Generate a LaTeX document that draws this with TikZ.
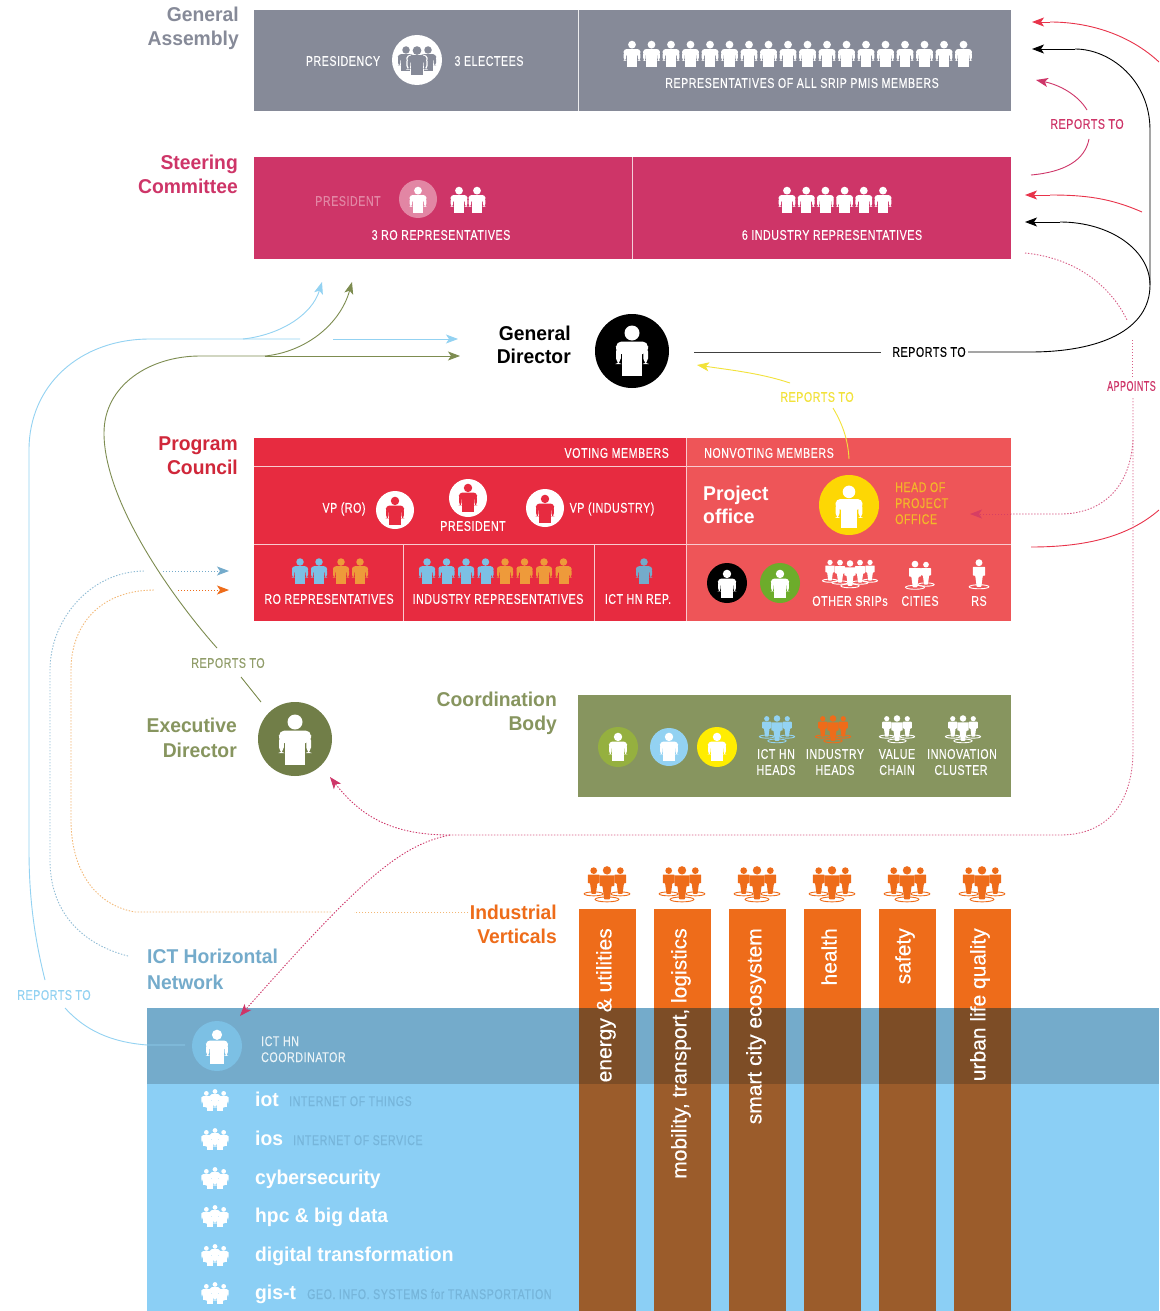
\documentclass[tikz,border=0pt]{standalone}
\usepackage{fontspec}
\setmainfont{Liberation Sans}
\newfontfamily\din[FakeStretch=0.76,LetterSpace=4,FakeBold=0.25]{Liberation Sans}
\newfontfamily\hd[FakeStretch=0.965]{Liberation Sans}
\newfontfamily\vf[FakeBold=0.3]{Liberation Sans}
\usetikzlibrary{arrows.meta}
\definecolor{cga}{HTML}{868A98}
\definecolor{csc}{HTML}{CE3568}
\definecolor{cpc}{HTML}{E72B40}
\definecolor{cpo}{HTML}{EE5558}
\definecolor{ccb}{HTML}{87955F}
\definecolor{cblue}{HTML}{8BCFF5}
\definecolor{cband}{HTML}{74ABCB}
\definecolor{cor}{HTML}{EE6C1A}
\definecolor{cbr}{HTML}{9B5C2B}
\definecolor{cbd}{HTML}{7D4D26}
\definecolor{cred}{HTML}{E8334A}
\definecolor{colv}{HTML}{7D8C50}
\definecolor{cyel}{HTML}{F2E23A}
\definecolor{clb}{HTML}{93D2F2}
\definecolor{cicb}{HTML}{7CC0E4}
\definecolor{cico}{HTML}{EE9A3A}
\definecolor{csub}{HTML}{76B5DA}
\definecolor{cgr}{HTML}{6DAC2B}
\definecolor{cgr2}{HTML}{95B03F}
\newcommand\pers[4]{%
  \begin{scope}[shift={(#1,#2)},scale=#3]
    \pgfmathsetlengthmacro\rc{#3*0.11pt}
    \fill[#4] (0,-0.36) circle[radius=0.15];
    \fill[#4,rounded corners=\rc] (-0.32,-0.19) rectangle (0.32,0.06);
    \fill[#4,rounded corners=\rc] (-0.32,-0.10) rectangle (-0.225,0.26);
    \fill[#4,rounded corners=\rc] (0.225,-0.10) rectangle (0.32,0.26);
    \fill[#4] (-0.20,-0.19) rectangle (0.20,0.5);
  \end{scope}}
\newcommand\stand[4]{%
  \begin{scope}[shift={(#1,#2)},scale=#3]
    \fill[#4] (0,-0.39) circle[radius=0.12];
    \fill[#4,rounded corners=0.6pt] (-0.21,-0.25) -- (0.21,-0.25) -- (0.21,0.06) -- (0.13,0.06) -- (0.08,0.44) -- (-0.08,0.44) -- (-0.13,0.06) -- (-0.21,0.06) -- cycle;
    \draw[#4,line width=0.9pt] (0,0.44) ellipse[x radius=0.34,y radius=0.07];
  \end{scope}}
\newcommand\grpthree[4]{%
  \stand{#1-#3*0.38}{#2-#3*0.07}{#3*0.8}{#4}\stand{#1+#3*0.38}{#2-#3*0.07}{#3*0.8}{#4}\stand{#1}{#2}{#3}{#4}}
\newcommand\crowd[4]{%
  \pers{#1-#3*0.36}{#2-#3*0.08}{#3*0.66}{#4}\pers{#1+#3*0.36}{#2-#3*0.08}{#3*0.66}{#4}\pers{#1}{#2-#3*0.16}{#3*0.66}{#4}%
  \pers{#1-#3*0.2}{#2+#3*0.12}{#3*0.6}{#4}\pers{#1+#3*0.2}{#2+#3*0.12}{#3*0.6}{#4}}
\tikzset{
  head/.style={font=\hd\bfseries\fontsize{20}{24}\selectfont,inner sep=0pt},
  lab/.style={font=\din\fontsize{14}{16}\selectfont,inner sep=0pt,text=white,align=center},
  rowt/.style={font=\hd\bfseries\fontsize{20}{24}\selectfont,inner sep=0pt,text=white,anchor=base west},
  subt/.style={font=\din\fontsize{14}{16}\selectfont,inner sep=0pt,text=csub,anchor=base west},
  vert/.style={font=\vf\fontsize{21}{24}\selectfont,inner sep=0pt,text=white,rotate=90,anchor=east},
  disc/.style={circle,inner sep=0pt,minimum size=#1},
  ln/.style={line width=0.9pt},
  dot/.style={line width=0.9pt,dash pattern=on 1.4pt off 1.6pt},
  tip/.style={-{Stealth[length=12pt,width=9pt,inset=3pt]}}
}
\begin{document}
\begin{tikzpicture}[x=1pt,y=-1pt]
\path[use as bounding box,fill=white] (0,0) rectangle (1159,1311);
\begin{scope}
\clip (0,0) rectangle (1159,1311);

% ---------- boxes
\fill[cga] (254,10) rectangle (1011,111);
\draw[white!85!cga,line width=1pt] (578.5,10) -- (578.5,111);
\fill[csc] (254,157) rectangle (1011,259);
\draw[white!75!csc,line width=1pt] (632.5,157) -- (632.5,259);
\fill[cpc] (254,438) rectangle (686,621);
\fill[cpo] (686,438) rectangle (1011,621);
\draw[white!75!cpc,line width=1pt] (254,466.5) -- (1011,466.5) (254,544) -- (1011,544)
  (403,544) -- (403,621) (594.5,544) -- (594.5,621) (686.5,438) -- (686.5,621);
\fill[ccb] (578,695) rectangle (1011,797);

% ---------- bottom panel
\fill[cblue] (147,1008) rectangle (1159,1311);
\fill[cband] (147,1008) rectangle (1159,1084);
\foreach \x in {579,654,729,804,879,954}{
  \fill[cor] (\x,909) rectangle (\x+57,1008);
  \fill[cbd] (\x,1008) rectangle (\x+57,1084);
  \fill[cbr] (\x,1084) rectangle (\x+57,1311);
  \grpthree{\x+28}{884}{35}{cor}
}

% ---------- headings
\node[head,text=cga,anchor=base east] (tga1) at (239,22) {General};
\node[head,text=cga,anchor=base east] (tga2) at (239,46) {Assembly};
\node[head,text=csc,anchor=base east] (tsc1) at (238,169) {Steering};
\node[head,text=csc,anchor=base east] (tsc2) at (238,193) {Committee};
\node[head,text=black,anchor=base east] (tgd1) at (571,340) {General};
\node[head,text=black,anchor=base east] (tgd2) at (571,363) {Director};
\node[head,text=cpc!90!black,anchor=base east] (tpc1) at (238,450) {Program};
\node[head,text=cpc!90!black,anchor=base east] (tpc2) at (238,474) {Council};
\node[head,text=ccb,anchor=base east] (ted1) at (237,732) {Executive};
\node[head,text=ccb,anchor=base east] (ted2) at (237,757) {Director};
\node[head,text=ccb,anchor=base east] (tcb1) at (557,706) {Coordination};
\node[head,text=ccb,anchor=base east] (tcb2) at (557,730) {Body};
\node[head,text=cor,anchor=base east] (tiv1) at (557,919) {Industrial};
\node[head,text=cor,anchor=base east] (tiv2) at (557,943) {Verticals};
\node[head,text=cband,anchor=base west] (tih1) at (147,963) {ICT Horizontal};
\node[head,text=cband,anchor=base west] (tih2) at (147,989) {Network};

% ---------- General Assembly
\node[lab] (l1) at (343,61) {PRESIDENCY};
\node[disc=50pt,fill=white] (d1) at (417,60) {};
\pers{406}{59}{25}{cga}\pers{428}{59}{25}{cga}
\pers{417}{61}{33}{white}\pers{417}{61}{29}{cga}
\node[lab] (l2) at (489,61) {3 ELECTEES};
\foreach \i in {0,...,17}{\pers{632+\i*19.5}{54}{26}{white}}
\node[lab] (l3) at (802,83) {REPRESENTATIVES OF ALL SRIP PMIS MEMBERS};

% ---------- Steering Committee
\node[lab,text=csc!60!white] (l4) at (348,201) {PRESIDENT};
\node[disc=38pt,fill=csc!60!white] (d2) at (418,199) {};
\pers{418}{200}{26}{white}
\pers{459}{200}{26}{white}\pers{477}{200}{26}{white}
\node[lab] (l5) at (441,235) {3 RO REPRESENTATIVES};
\foreach \i in {0,...,5}{\pers{787+\i*19.2}{200}{26}{white}}
\node[lab] (l6) at (832,235) {6 INDUSTRY REPRESENTATIVES};

% ---------- General Director
\node[disc=74pt,fill=black] (gd) at (632,351) {};
\pers{632}{351}{50}{white}

% ---------- Program Council
\node[lab,anchor=east] (l7) at (669,453) {VOTING MEMBERS};
\node[lab,anchor=west] (l8) at (704,453) {NONVOTING MEMBERS};
\node[lab] (l9) at (344,509) {VP (RO)};
\node[disc=38pt,fill=white] (d3) at (395,510) {};
\pers{395}{511}{28}{cpc}
\node[disc=38pt,fill=white] (d4) at (468,498) {};
\pers{468}{498}{28}{cpc}
\node[lab] (l10) at (473,526) {PRESIDENT};
\node[disc=38pt,fill=white] (d5) at (545,508) {};
\pers{545}{509}{28}{cpc}
\node[lab] (l11) at (612,509) {VP (INDUSTRY)};
\pers{300}{571}{25}{cicb}\pers{319}{571}{25}{cicb}
\pers{341}{571}{25}{cico}\pers{360}{571}{25}{cico}
\foreach \i in {0,...,3}{\pers{427+\i*19.5}{571}{25}{cicb}}
\foreach \i in {4,...,7}{\pers{427+\i*19.5}{571}{25}{cico}}
\pers{644}{571}{25}{cband}
\node[lab] (l12) at (329,599) {RO REPRESENTATIVES};
\node[lab] (l13) at (498,599) {INDUSTRY REPRESENTATIVES};
\node[lab] (l14) at (638,599) {ICT HN REP.};
\node[head,text=white,anchor=base west] (po1) at (703,500) {Project};
\node[head,text=white,anchor=base west] (po2) at (703,523) {office};
\node[disc=60pt,fill=yellow!75!orange] (hp) at (849,505) {};
\pers{849}{507}{42}{white}
\node[lab,text=cico!70!yellow,align=left,anchor=base west] (l15) at (895,492) {HEAD OF};
\node[lab,text=cico!70!yellow,align=left,anchor=base west] (l16) at (895,508) {PROJECT};
\node[lab,text=cico!70!yellow,align=left,anchor=base west] (l17) at (895,524) {OFFICE};
\node[disc=40pt,fill=black] (d6) at (727,583) {};
\pers{727}{584}{28}{white}
\node[disc=40pt,fill=cgr] (d7) at (780,583) {};
\pers{780}{584}{28}{white}
\stand{830}{571}{22}{white}\stand{870}{571}{22}{white}
\stand{840}{572}{24}{white}\stand{860}{572}{24}{white}
\stand{850}{574}{27}{white}
\stand{926}{574}{24}{white}\stand{915}{575}{28}{white}
\stand{979}{574}{29}{white}
\node[lab] (l18) at (850,601) {OTHER SRIPs};
\node[lab] (l19) at (920,601) {CITIES};
\node[lab] (l20) at (979,601) {RS};

% ---------- Executive Director / Coordination
\node[disc=74pt,fill=colv!90!black] (ed) at (295,739) {};
\pers{295}{740}{50}{white}
\node[disc=40pt,fill=cgr2] (d8) at (618,747) {};
\pers{618}{747}{28}{white}
\node[disc=38pt,fill=clb] (d9) at (669,747) {};
\pers{669}{747}{28}{white}
\node[disc=40pt,fill=yellow!95!orange] (d10) at (717,747) {};
\pers{717}{747}{28}{white}
\grpthree{777}{729}{27}{clb}
\grpthree{833}{729}{27}{cor}
\grpthree{897}{729}{27}{white}
\grpthree{963}{729}{27}{white}
\node[lab] (l21) at (776,754) {ICT HN};
\node[lab] (l22) at (776,770) {HEADS};
\node[lab] (l23) at (835,754) {INDUSTRY};
\node[lab] (l24) at (835,770) {HEADS};
\node[lab] (l25) at (897,754) {VALUE};
\node[lab] (l26) at (897,770) {CHAIN};
\node[lab] (l27) at (962,754) {INNOVATION};
\node[lab] (l28) at (961,770) {CLUSTER};

% ---------- ICT HN panel
\node[disc=50pt,fill=cicb] (cc) at (217,1046) {};
\pers{217}{1047}{34}{white}
\node[lab,align=left,anchor=base west,text=white!85!cband] (l29) at (261,1046) {ICT HN};
\node[lab,align=left,anchor=base west,text=white!85!cband] (l30) at (261,1062) {COORDINATOR};
\foreach \y in {1101,1140,1179,1217,1256,1294}{\crowd{215}{\y}{24}{white}}
\node[rowt] (r1) at (255,1106) {iot};
\node[subt] (s1) at (289,1106) {INTERNET OF THINGS};
\node[rowt] (r2) at (255,1145) {ios};
\node[subt] (s2) at (293,1145) {INTERNET OF SERVICE};
\node[rowt] (r3) at (255,1184) {cybersecurity};
\node[rowt] (r4) at (255,1222) {hpc \& big data};
\node[rowt] (r5) at (255,1261) {digital transformation};
\node[rowt] (r6) at (255,1299) {gis-t};
\node[subt] (s3) at (307,1299) {GEO. INFO. SYSTEMS for TRANSPORTATION};

% ---------- vertical labels
\node[vert] (v1) at (606,928) {energy \& utilities};
\node[vert] (v2) at (681,928) {mobility, transport, logistics};
\node[vert] (v3) at (756,928) {smart city ecosystem};
\node[vert] (v4) at (829,928) {health};
\node[vert] (v5) at (905,928) {safety};
\node[vert] (v6) at (980,928) {urban life quality};

% ---------- connector labels
\node[lab,text=black] (rtk) at (929,352) {REPORTS TO};
\node[lab,text=csc] (rtp) at (1087,124) {REPORTS TO};
\node[lab,text=cyel] (rty) at (817,397) {REPORTS TO};
\node[lab,text=colv!85!white] (rto) at (228,663) {REPORTS TO};
\node[lab,text=clb] (rtb) at (54,995) {REPORTS TO};
\node[lab,text=csc,anchor=west] (app) at (1107,386) {\scalebox{0.84}[1]{APPOINTS}};

% ---------- named free ends
\coordinate (gda) at (694,352);
\coordinate (rkl) at (881,352);
\coordinate (rkr) at (968,352);
\coordinate (ga1) at (1032,22);
\coordinate (ga2) at (1032,49);
\coordinate (ga3) at (1036,80);
\coordinate (sc1) at (1025,195);
\coordinate (sc2) at (1025,222);
\coordinate (scf) at (1031,175);
\coordinate (scd) at (1025,253);
\coordinate (rr1) at (1159,62);
\coordinate (rr2) at (1142,212);
\coordinate (pcr) at (1031,547);
\coordinate (rr3) at (1159,510);
\coordinate (v1k) at (1150,285);
\coordinate (pcy) at (849,459);
\coordinate (yu) at (833,408);
\coordinate (gdy) at (697,365);
\coordinate (gdo) at (460,356);
\coordinate (gdb) at (458,339);
\coordinate (sco) at (352,282);
\coordinate (scb) at (322,282);
\coordinate (pcb) at (229,571);
\coordinate (pco) at (229,590);
\coordinate (hpa) at (970,514);
\coordinate (mid) at (450,835);
\coordinate (iv) at (468,912);
\coordinate (pp1) at (1089,139);
\coordinate (pp2) at (1087,110);
\coordinate (ol1) at (261,702);
\coordinate (ol2) at (241,677);
\coordinate (ol3) at (217,648);

% ---------- black
\draw[black!75,ln] (gda) -- (rkl);
\draw[black,ln] (rkr) -- (1030,352) .. controls (1100,352) and (1150,330) .. (v1k);
\draw[black,ln] (v1k) -- (1150,130) .. controls (1150,80) and (1110,49) .. (1075,49);
\draw[black,ln,tip] (1075,49) -- (ga2);
\draw[black,ln] (v1k) .. controls (1150,250) and (1110,222) .. (1060,222);
\draw[black,ln,tip] (1060,222) -- (sc2);

% ---------- red
\draw[cred,ln] (rr1) .. controls (1130,35) and (1090,22) .. (1050,22);
\draw[cred,ln,tip] (1050,22) -- (ga1);
\draw[cred,ln] (rr2) .. controls (1110,198) and (1085,195) .. (1050,195);
\draw[cred,ln,tip] (1050,195) -- (sc1);
\draw[cred,ln] (pcr) .. controls (1090,547) and (1130,535) .. (rr3);

% ---------- pink reports to
\draw[csc,ln] (scf) .. controls (1065,172) and (1085,160) .. (pp1);
\draw[csc,ln,tip] (pp2) .. controls (1078,95) and (1060,85) .. (ga3);

% ---------- yellow
\draw[cyel,ln] (pcy) .. controls (848,440) and (843,425) .. (yu);
\draw[cyel,ln,tip] (790,383) .. controls (760,373) and (730,370) .. (gdy);

% ---------- olive
\draw[colv,ln] (ol1) -- (ol2);
\draw[colv,ln] (ol3) .. controls (170,595) and (104,500) .. (104,433)
  .. controls (104,385) and (150,356) .. (200,356) -- (265,356);
\draw[colv,ln,tip] (265,356) -- (gdo);
\draw[colv,ln,tip] (265,356) .. controls (305,352) and (340,325) .. (sco);

% ---------- light blue
\draw[clb,ln] (185,1045) -- (147,1045) .. controls (110,1042) and (85,1030) .. (65,1008);
\draw[clb,ln] (45,980) .. controls (35,940) and (29,900) .. (29,850) -- (29,450)
  .. controls (29,385) and (80,339) .. (150,339) -- (243,339) -- (300,339);
\draw[clb,ln,tip] (333,339) -- (gdb);
\draw[clb,ln,tip] (243,339) .. controls (280,335) and (312,315) .. (scb);

% ---------- dotted
\draw[cband!80!white,dot] (128,956) .. controls (85,945) and (50,915) .. (50,860) -- (50,670)
  .. controls (50,620) and (90,571) .. (145,571);
\draw[cband,dot,tip] (163,571) -- (pcb);
\draw[cico!70!white,dot] (iv) -- (354,912);
\draw[cico!70!white,dot] (331,912) -- (135,912) .. controls (95,905) and (71,870) .. (71,820) -- (71,670)
  .. controls (71,625) and (100,590) .. (155,590);
\draw[cor,dot,tip] (178,590) -- (pco);
\draw[csc!80!white,dot] (scd) .. controls (1075,258) and (1110,285) .. (1127,320);
\draw[csc!80!white,dot] (1132,340) -- (1132,378);
\draw[csc!80!white,dot] (1133,398) -- (1133,750) .. controls (1133,800) and (1110,835) .. (1060,835) -- (mid);
\draw[csc!80!white,dot] (1133,440) .. controls (1130,490) and (1100,514) .. (1060,514) -- (1011,514);
\draw[csc!70!cpo,dot,tip] (1011,514) -- (hpa);
\draw[csc,dot,tip] (mid) .. controls (390,835) and (360,815) .. (330,777);
\draw[csc,dot,tip] (mid) .. controls (400,845) and (360,880) .. (240,1016);
\end{scope}
\end{tikzpicture}
\end{document}
